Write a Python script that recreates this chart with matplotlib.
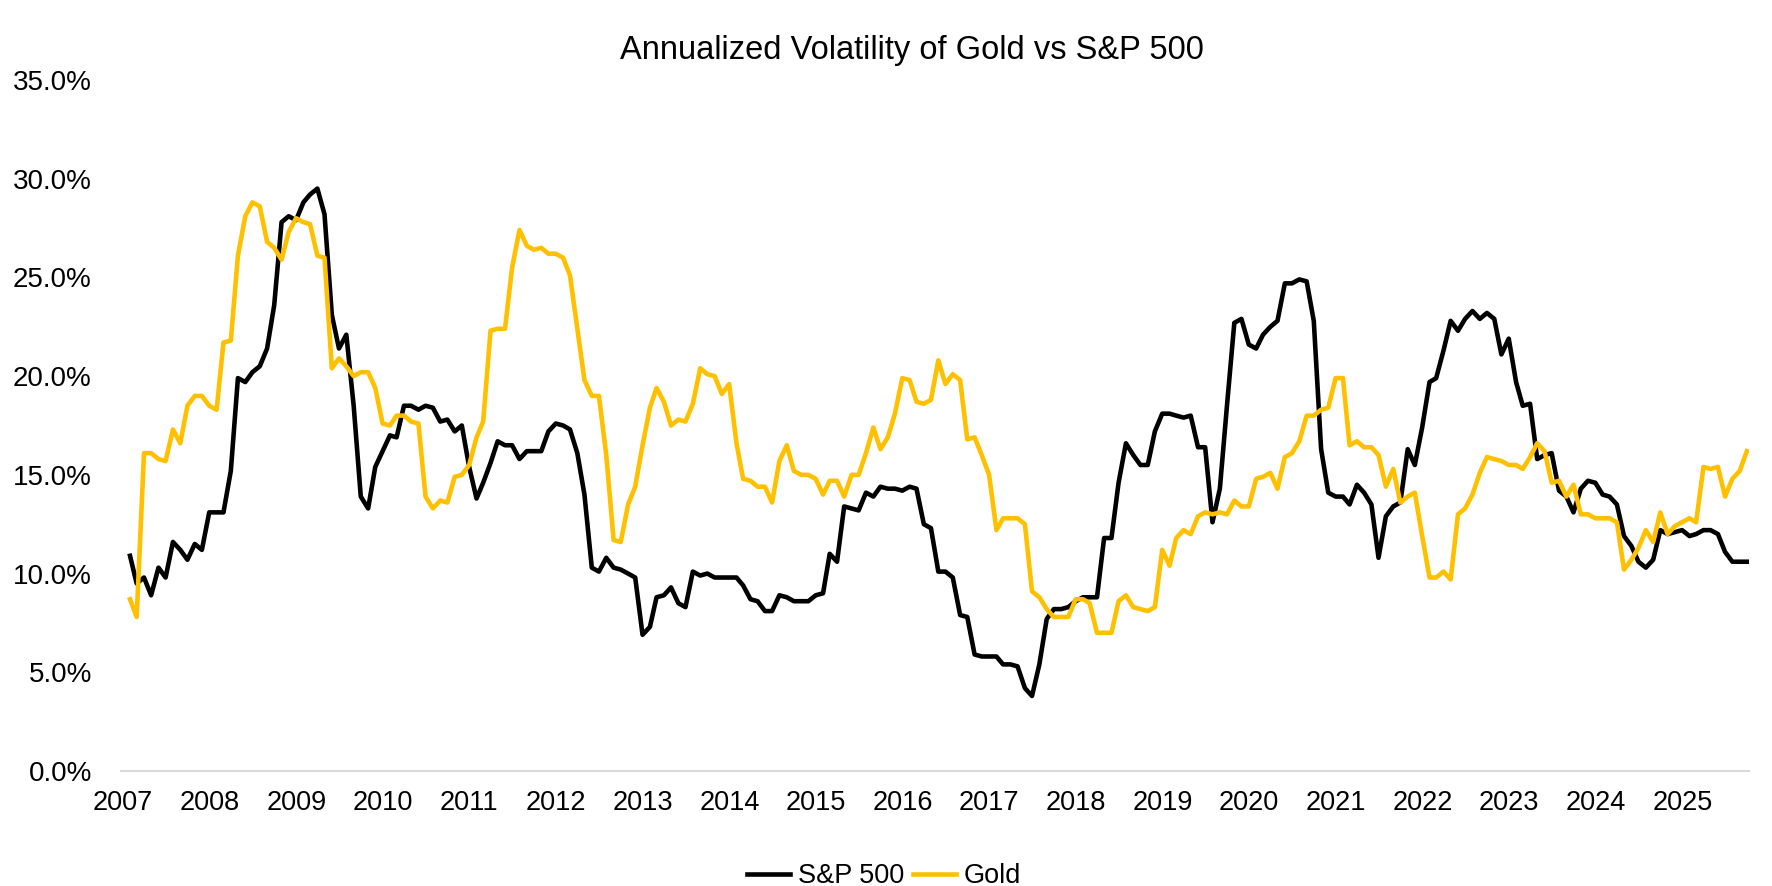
import numpy as np
import pandas as pd
import matplotlib
matplotlib.use("Agg")
import matplotlib.pyplot as plt
import matplotlib.dates as mdates
from matplotlib.ticker import PercentFormatter

plt.rcParams["font.family"] = ["Liberation Sans", "DejaVu Sans"]

# monthly annualized volatility (%), Jan 2007 - Sep 2025
sp500 = [
    10.9, 9.5, 9.8, 8.9, 10.3, 9.8, 11.6, 11.2, 10.7, 11.5, 11.2, 13.1,        # 2007
    13.1, 13.1, 15.2, 19.9, 19.7, 20.2, 20.5, 21.4, 23.6, 27.8, 28.1, 27.9,    # 2008
    28.8, 29.2, 29.5, 28.2, 23.1, 21.4, 22.1, 18.5, 13.9, 13.3, 15.4, 16.2,    # 2009
    17.0, 16.9, 18.5, 18.5, 18.3, 18.5, 18.4, 17.7, 17.8, 17.2, 17.5, 15.4,    # 2010
    13.8, 14.6, 15.6, 16.7, 16.5, 16.5, 15.8, 16.2, 16.2, 16.2, 17.2, 17.6,    # 2011
    17.5, 17.3, 16.1, 14.0, 10.3, 10.1, 10.8, 10.3, 10.2, 10.0, 9.8, 6.9,      # 2012
    7.3, 8.8, 8.9, 9.3, 8.5, 8.3, 10.1, 9.9, 10.0, 9.8, 9.8, 9.8,              # 2013
    9.8, 9.4, 8.7, 8.6, 8.1, 8.1, 8.9, 8.8, 8.6, 8.6, 8.6, 8.9,                # 2014
    9.0, 11.0, 10.6, 13.4, 13.3, 13.2, 14.1, 13.9, 14.4, 14.3, 14.3, 14.2,     # 2015
    14.4, 14.3, 12.5, 12.3, 10.1, 10.1, 9.8, 7.9, 7.8, 5.9, 5.8, 5.8,          # 2016
    5.8, 5.4, 5.4, 5.3, 4.2, 3.8, 5.4, 7.7, 8.2, 8.2, 8.3, 8.6,                # 2017
    8.8, 8.8, 8.8, 11.8, 11.8, 14.6, 16.6, 16.0, 15.5, 15.5, 17.2, 18.1,       # 2018
    18.1, 18.0, 17.9, 18.0, 16.4, 16.4, 12.6, 14.3, 18.5, 22.7, 22.9, 21.6,    # 2019
    21.4, 22.1, 22.5, 22.8, 24.7, 24.7, 24.9, 24.8, 22.8, 16.3, 14.1, 13.9,    # 2020
    13.9, 13.5, 14.5, 14.1, 13.5, 10.8, 12.9, 13.4, 13.6, 16.3, 15.5, 17.4,    # 2021
    19.7, 19.9, 21.3, 22.8, 22.3, 22.9, 23.3, 22.9, 23.2, 22.9, 21.1, 21.9,    # 2022
    19.7, 18.5, 18.6, 15.8, 16.0, 16.1, 14.2, 13.9, 13.1, 14.3, 14.7, 14.6,    # 2023
    14.0, 13.9, 13.5, 11.9, 11.4, 10.6, 10.3, 10.7, 12.2, 12.0, 12.1, 12.2,    # 2024
    11.9, 12.0, 12.2, 12.2, 12.0, 11.1, 10.6, 10.6, 10.6,                      # 2025
]

gold = [
    8.7, 7.8, 16.1, 16.1, 15.8, 15.7, 17.3, 16.6, 18.5, 19.0, 19.0, 18.5,      # 2007
    18.3, 21.7, 21.8, 26.1, 28.1, 28.8, 28.6, 26.8, 26.5, 25.9, 27.3, 28.0,    # 2008
    27.8, 27.7, 26.1, 26.0, 20.4, 20.9, 20.5, 20.0, 20.2, 20.2, 19.4, 17.6,    # 2009
    17.5, 18.0, 18.0, 17.7, 17.6, 13.9, 13.3, 13.7, 13.6, 14.9, 15.0, 15.5,    # 2010
    16.9, 17.7, 22.3, 22.4, 22.4, 25.5, 27.4, 26.6, 26.4, 26.5, 26.2, 26.2,    # 2011
    26.0, 25.1, 22.4, 19.8, 19.0, 19.0, 16.0, 11.7, 11.6, 13.5, 14.4, 16.5,    # 2012
    18.4, 19.4, 18.7, 17.5, 17.8, 17.7, 18.6, 20.4, 20.1, 20.0, 19.1, 19.6,    # 2013
    16.6, 14.8, 14.7, 14.4, 14.4, 13.6, 15.7, 16.5, 15.2, 15.0, 15.0, 14.8,    # 2014
    14.0, 14.7, 14.7, 13.9, 15.0, 15.0, 16.1, 17.4, 16.3, 16.9, 18.1, 19.9,    # 2015
    19.8, 18.7, 18.6, 18.8, 20.8, 19.6, 20.1, 19.8, 16.8, 16.9, 16.0, 15.0,    # 2016
    12.2, 12.8, 12.8, 12.8, 12.5, 9.1, 8.8, 8.2, 7.8, 7.8, 7.8, 8.7,           # 2017
    8.7, 8.5, 7.0, 7.0, 7.0, 8.6, 8.9, 8.3, 8.2, 8.1, 8.3, 11.2,               # 2018
    10.4, 11.8, 12.2, 12.0, 12.9, 13.1, 13.0, 13.1, 13.0, 13.7, 13.4, 13.4,    # 2019
    14.8, 14.9, 15.1, 14.3, 15.9, 16.1, 16.7, 18.0, 18.0, 18.3, 18.4, 19.9,    # 2020
    19.9, 16.5, 16.7, 16.4, 16.4, 16.0, 14.4, 15.3, 13.6, 13.9, 14.1, 11.9,    # 2021
    9.8, 9.8, 10.1, 9.7, 13.0, 13.3, 14.0, 15.1, 15.9, 15.8, 15.7, 15.5,       # 2022
    15.5, 15.3, 15.9, 16.6, 16.2, 14.6, 14.7, 13.9, 14.5, 13.0, 13.0, 12.8,    # 2023
    12.8, 12.8, 12.6, 10.2, 10.7, 11.3, 12.2, 11.6, 13.1, 12.0, 12.4, 12.6,    # 2024
    12.8, 12.6, 15.4, 15.3, 15.4, 13.9, 14.8, 15.2, 16.2,                      # 2025
]

months = pd.date_range("2007-01-31", periods=len(sp500), freq="ME")
years = list(range(2007, 2026))

W, H = 1772, 886
fig = plt.figure(figsize=(W / 100, H / 100), dpi=100)
ax = fig.add_axes([121 / W, 1 - 771 / H, (1749 - 121) / W, (771 - 80) / H])

ax.plot(months, sp500, color="#000000", linewidth=3.3, label="S&P 500",
        solid_joinstyle="round")
ax.plot(months, gold, color="#FFC000", linewidth=3.3, label="Gold",
        solid_joinstyle="round")

ax.set_ylim(0, 35)
ax.set_yticks(np.arange(0, 36, 5))
ax.yaxis.set_major_formatter(PercentFormatter(xmax=100, decimals=1))

ax.set_xlim(pd.Timestamp("2006-12-24"), pd.Timestamp("2025-10-09"))
ax.set_xticks([pd.Timestamp(f"{y}-01-01") for y in years])
ax.xaxis.set_major_formatter(mdates.DateFormatter("%Y"))

for side in ["top", "right", "left"]:
    ax.spines[side].set_visible(False)
ax.spines["bottom"].set_color("#D9D9D9")
ax.spines["bottom"].set_linewidth(1.5)
ax.tick_params(axis="both", length=0, colors="#000000")
ax.tick_params(axis="y", pad=21, labelsize=20)
ax.tick_params(axis="x", pad=14, labelsize=19.5)

fig.text(912 / W, 1 - 51 / H, "Annualized Volatility of Gold vs S&P 500",
         ha="center", va="center", fontsize=23.5)

fig.legend(loc="center", bbox_to_anchor=(884 / W, 1 - 876 / H), ncol=2,
           frameon=False, fontsize=19.5, handlelength=1.6, handletextpad=0.3,
           columnspacing=0.3, borderpad=0.0)

fig.savefig("out.png", dpi=100)
